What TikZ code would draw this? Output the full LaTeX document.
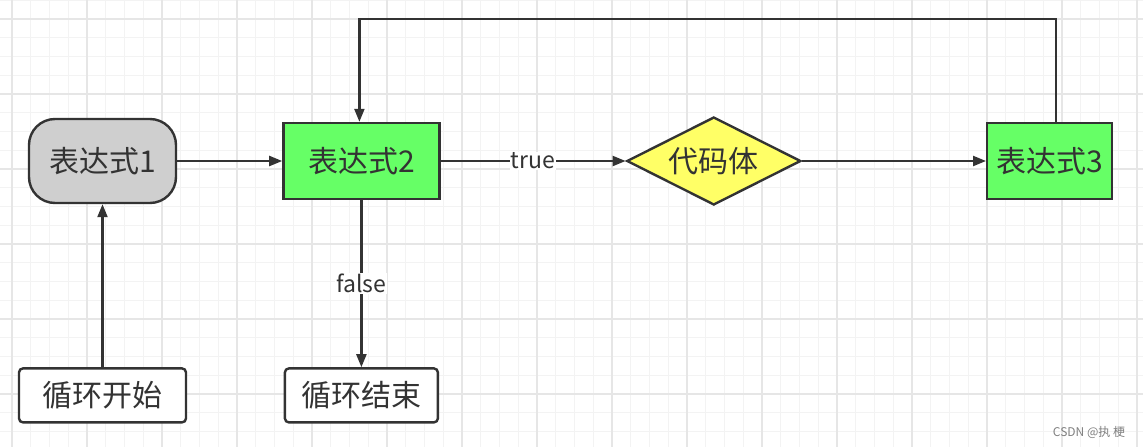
\documentclass[tikz,border=0pt]{standalone}
\usepackage{fontspec}
\setmainfont{Noto Sans CJK SC}
\usetikzlibrary{shapes.geometric, arrows.meta, positioning}

\definecolor{inkgray}{HTML}{333333}
\definecolor{startgray}{HTML}{CFCFCF}
\definecolor{exprgreen}{HTML}{66FF66}
\definecolor{codeyellow}{HTML}{FFFF66}
\definecolor{minorline}{HTML}{F3F3F3}
\definecolor{majorline}{HTML}{E6E6E6}

\begin{document}
\begin{tikzpicture}[
  x=1pt, y=-1pt,
  every node/.style={text=inkgray},
  exprbox/.style={rectangle, draw=inkgray, line width=2.4pt, fill=exprgreen, minimum width=156pt, minimum height=76pt, inner sep=0pt, font=\fontsize{30}{34}\selectfont},
  initbox/.style={rectangle, rounded corners=26pt, draw=inkgray, line width=2.4pt, fill=startgray, minimum width=147pt, minimum height=84pt, inner sep=0pt, font=\fontsize{30}{34}\selectfont},
  codebox/.style={diamond, aspect=2, draw=inkgray, line width=2.4pt, fill=codeyellow, minimum width=174pt, minimum height=88pt, inner sep=0pt, font=\fontsize{30}{34}\selectfont},
  endbox/.style={rectangle, rounded corners=4pt, draw=inkgray, line width=2.4pt, fill=white, minimum width=167pt, minimum height=54pt, inner sep=0pt, font=\fontsize{30}{34}\selectfont},
  labelbox/.style={fill=white, inner sep=1pt, font=\fontsize{23}{26}\selectfont},
  arrowstyle/.style={-{Triangle[length=13pt, width=10pt]}, line width=2.2pt, draw=inkgray},
  minorgrid/.style={draw=minorline, line width=1pt},
  majorgrid/.style={draw=majorline, line width=1.2pt}
]

% background and grid
\useasboundingbox (0,0) rectangle (1143,447);
\fill[white] (0,0) rectangle (1143,447);
\foreach \k in {-1,...,60} \draw[minorgrid] ({12+18.75*\k},0) -- ({12+18.75*\k},447);
\foreach \k in {-1,...,23} \draw[minorgrid] (0,{19+18.75*\k}) -- (1143,{19+18.75*\k});
\foreach \k in {0,...,15} \draw[majorgrid] ({12+75*\k},0) -- ({12+75*\k},447);
\foreach \k in {0,...,5} \draw[majorgrid] (0,{19+75*\k}) -- (1143,{19+75*\k});

\node[initbox] (e1) at (102.5,161) {表达式1};
\node[exprbox, right=105pt of e1] (e2) {表达式2};
\node[codebox, right=185pt of e2] (body) {代码体};
\node[exprbox, minimum width=125pt, right=184pt of body] (e3) {表达式3};

\node[endbox, below=163pt of e1] (begin) {循环开始};
\node[endbox, minimum width=153pt, below=167pt of e2] (finish) {循环结束};

\coordinate (loopturn) at ([xshift=-2pt, yshift=103pt]e2.north);

\node[text=gray, font=\fontsize{12}{14}\selectfont] (mark) at (1089,432) {CSDN @执 梗};

\draw[arrowstyle] (begin) -- (e1);
\draw[arrowstyle] (e1) -- (e2);
\draw[arrowstyle] (e2) -- node[labelbox]{true} (body);
\draw[arrowstyle] (body) -- (e3);
\draw[arrowstyle] (e2) -- node[labelbox]{false} (finish);
\draw[arrowstyle] ([xshift=6pt]e3.north) |- (loopturn) -- ([xshift=-2pt]e2.north);

\end{tikzpicture}
\end{document}
